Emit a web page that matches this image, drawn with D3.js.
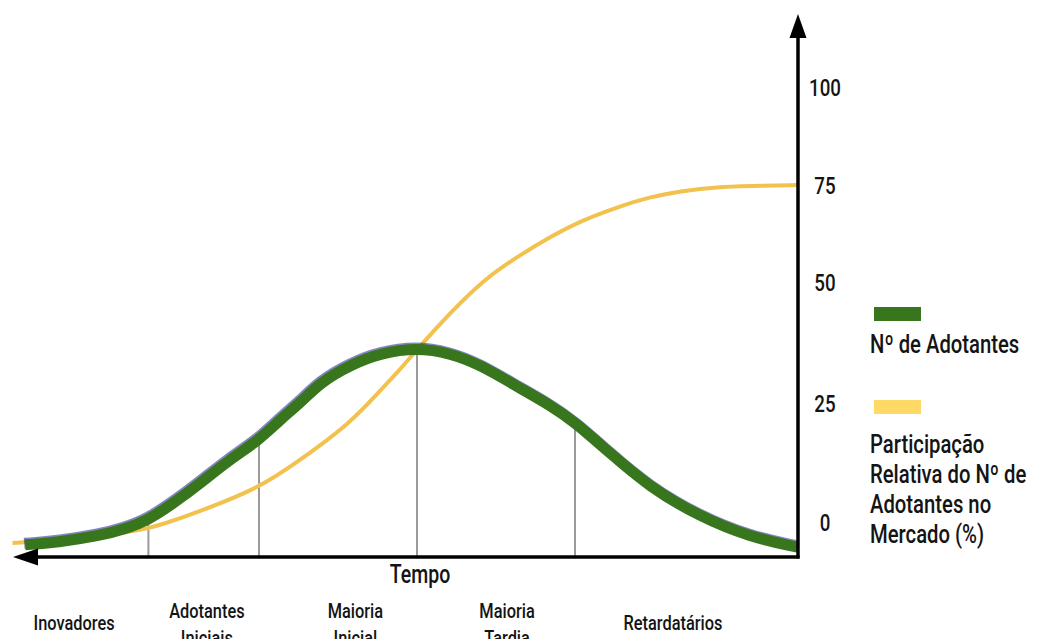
<!DOCTYPE html>
<html lang="pt">
<head>
<meta charset="utf-8">
<script src="https://cdn.jsdelivr.net/npm/d3@7"></script>
<style>
  html, body { margin: 0; padding: 0; background: #ffffff; }
  svg { display: block; }
  text { font-family: "Roboto", "Liberation Sans", sans-serif; font-weight: 500; fill: #141414; }
</style>
</head>
<body>
<svg id="chart" width="1039" height="639"></svg>
<script>
// Tempo measured in standard deviations from the mean adoption time
const greenTempo = [-2.48, -2.26, -2.01, -1.85, -1.70, -1.53, -1.37, -1.19, -1.00, -0.87, -0.74, -0.61, -0.42, -0.23, 0.00, 0.21, 0.40, 0.65, 0.84, 1.00, 1.22, 1.47, 1.79, 2.11, 2.41];
const adotantes  = [-4.8, -4.2, -2.9, -1.5, 0.4, 4.2, 8.2, 13.0, 17.2, 21.4, 25.0, 29.3, 32.9, 35.3, 36.4, 35.3, 32.9, 28.1, 24.6, 21.0, 14.5, 7.4, 1.1, -3.2, -5.3];

const yellowTempo   = [-2.56, -2.26, -2.01, -1.70, -1.37, -1.00, -0.74, -0.42, -0.23, -0.11, 0.02, 0.21, 0.42, 0.63, 0.84, 1.05, 1.27, 1.47, 1.68, 1.90, 2.11, 2.41];
const participacao  = [-4.4, -3.8, -2.9, -1.7, 2.3, 7.1, 13.0, 20.8, 27.7, 31.8, 36.8, 43.6, 50.5, 56.4, 61.6, 66.0, 69.3, 71.9, 73.5, 74.5, 74.7, 75.0];

// Adopter categories, their centres and the boundaries between them
const categories      = [["Inovadores"], ["Adotantes", "Iniciais"], ["Maioria", "Inicial"], ["Maioria", "Tardia"], ["Retardatários"]];
const categoryCenters = [-2.17, -1.33, -0.39, 0.57, 1.62];
const boundaries      = [-1.70, -1.00, 0.00, 1.00];

const yTicks = [0, 25, 50, 75, 100];

const legendItems = [
  { lines: ["Nº de Adotantes"], color: "#38761d" },
  { lines: ["Participação", "Relativa do Nº de", "Adotantes no", "Mercado (%)"], color: "#ffd966" }
];

const svg = d3.select("#chart");

const axisY0 = 557;   // time axis
const axisX0 = 798;   // value axis
const NARROW = 0.78;  // horizontal squeeze for the condensed lettering

const x = d3.scaleLinear().domain([-2.5, 2.5]).range([22, 812]);
// uneven spacing of the value ticks, piecewise
const y = d3.scaleLinear().domain(yTicks).range([522, 403, 282, 185, 87]);

const green = greenTempo.map((t, i) => [t, adotantes[i]]);
const yellow = yellowTempo.map((t, i) => [t, participacao[i]]);

const line = d3.line().x(d => x(d[0])).y(d => y(d[1])).curve(d3.curveBasis);

// condensed text block: lines stacked from a first baseline
function label(parent, tx, ty, lines, size, anchor, lead) {
  const t = parent.append("text")
    .attr("transform", `translate(${tx},${ty}) scale(${NARROW},1)`)
    .attr("font-size", size).attr("text-anchor", anchor);
  t.selectAll("tspan").data(lines).join("tspan")
    .attr("x", 0).attr("dy", (d, j) => j === 0 ? 0 : lead).text(d => d);
  return t;
}

// vertical separators between adopter categories
svg.append("g").selectAll("line").data(boundaries).join("line")
  .attr("x1", d => x(d)).attr("x2", d => x(d))
  .attr("y1", axisY0)
  .attr("y2", d => y(adotantes[greenTempo.indexOf(d)]))
  .attr("stroke", "#9a9a9a").attr("stroke-width", 2);

// cumulative share curve
svg.append("path").datum(yellow)
  .attr("d", line).attr("fill", "none")
  .attr("stroke", "#f2c14e").attr("stroke-width", 4);

// adopters curve with its faint dark edge
svg.append("path").datum(green)
  .attr("d", line).attr("fill", "none")
  .attr("stroke", "#23238a").attr("stroke-width", 11).attr("opacity", 0.55)
  .attr("transform", "translate(-1,-1.5)");
svg.append("path").datum(green)
  .attr("d", line).attr("fill", "none")
  .attr("stroke", "#38761d").attr("stroke-width", 11);

// axes
svg.append("line").attr("x1", 34).attr("x2", axisX0 + 1.5).attr("y1", axisY0).attr("y2", axisY0)
  .attr("stroke", "#000").attr("stroke-width", 3.5);
svg.append("path").attr("d", `M13,${axisY0} L38,${axisY0 - 8.5} L38,${axisY0 + 8.5} Z`).attr("fill", "#000");
svg.append("line").attr("x1", axisX0).attr("x2", axisX0).attr("y1", axisY0 + 1.5).attr("y2", 34)
  .attr("stroke", "#000").attr("stroke-width", 3.5);
svg.append("path").attr("d", `M${axisX0},14 L${axisX0 - 8.5},38 L${axisX0 + 8.5},38 Z`).attr("fill", "#000");

// value tick labels
const tickG = svg.append("g");
yTicks.forEach(v => label(tickG, 825, y(v) + 8.5, [String(v)], 24, "middle", 0));

// axis title
label(svg, 420, 583, ["Tempo"], 25, "middle", 0);

// category labels
const catG = svg.append("g");
categories.forEach((lines, i) => {
  label(catG, x(categoryCenters[i]), lines.length === 1 ? 630 : 618, lines, 21, "middle", 27);
});

// legend
const legendX = 870;
const legendTop = [307, 400];
const legendTextY = [353, 453];
legendItems.forEach((item, i) => {
  svg.append("rect").attr("x", legendX + 4).attr("y", legendTop[i]).attr("width", 47).attr("height", 14)
    .attr("fill", item.color);
  label(svg, legendX, legendTextY[i], item.lines, 26, "start", 30);
});
</script>
</body>
</html>
